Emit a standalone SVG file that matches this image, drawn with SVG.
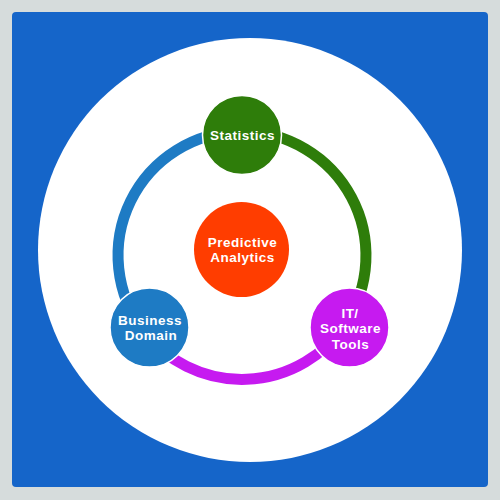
<svg xmlns="http://www.w3.org/2000/svg" width="500" height="500" viewBox="0 0 500 500">
  <style>
    .lbl { font-family: "Liberation Sans", "Open Sans", sans-serif; font-weight: 700; font-size: 13.5px; letter-spacing: 0.5px; fill: #ffffff; text-anchor: middle; }
    .ring { fill: none; stroke-width: 11; }
    .node { stroke: #ffffff; stroke-width: 1.5; }
  </style>
  <rect x="0" y="0" width="500" height="500" fill="#D6DCDC"/>
  <rect x="12" y="12" width="476" height="475" rx="4" fill="#1565C9"/>
  <circle cx="250" cy="250" r="212" fill="#ffffff"/>
  <g id="connectors">
    <path class="ring" stroke="#2E7D0A" d="M242,131.5 A124,124 0 0 1 345,324.5"/>
    <path class="ring" stroke="#C61AF0" d="M345,324.5 A124,124 0 0 1 144.3,331.8"/>
    <path class="ring" stroke="#1E7BC4" d="M144.3,331.8 A124,124 0 0 1 242,131.5"/>
  </g>
  <g id="statistics">
    <circle class="node" cx="242" cy="135" r="39.5" fill="#2E7D0A"/>
    <text class="lbl" x="242.5" y="140">Statistics</text>
  </g>
  <g id="predictive-analytics">
    <circle cx="241.5" cy="249.5" r="47.5" fill="#FF3D00"/>
    <text class="lbl" x="242.5" y="246.5">Predictive</text>
    <text class="lbl" x="242.5" y="262">Analytics</text>
  </g>
  <g id="business-domain">
    <circle class="node" cx="149.5" cy="327.5" r="39.5" fill="#1E7BC4"/>
    <text class="lbl" x="150" y="324.5">Business</text>
    <text class="lbl" x="151" y="340">Domain</text>
  </g>
  <g id="it-software-tools">
    <circle class="node" cx="349.5" cy="327.5" r="39.5" fill="#C61AF0"/>
    <text class="lbl" x="350" y="317.5">IT/</text>
    <text class="lbl" x="350.5" y="333">Software</text>
    <text class="lbl" x="350.5" y="348.5">Tools</text>
  </g>
</svg>
